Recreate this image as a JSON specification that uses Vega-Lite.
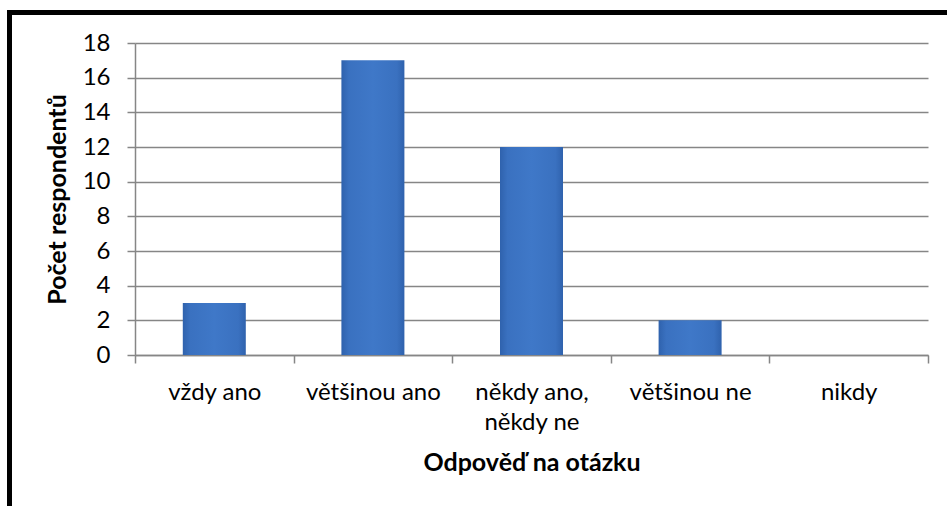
{
  "$schema": "https://vega.github.io/schema/vega-lite/v6.json",
  "autosize": "none",
  "width": 793,
  "height": 312,
  "padding": {"left": 135, "top": 43, "right": 19, "bottom": 151},
  "background": "white",
  "config": {
    "font": "Lato",
    "view": {"stroke": null}
  },
  "layer": [
    {
      "data": {"values": [{}]},
      "mark": {"type": "rect", "fill": null, "stroke": "black", "strokeWidth": 5},
      "encoding": {
        "x": {"value": -125.5},
        "x2": {"value": 830},
        "y": {"value": -30.5},
        "y2": {"value": 480}
      }
    },
    {
      "data": {
        "values": [
          {"odpoved": "vždy ano", "pocet": 3},
          {"odpoved": "většinou ano", "pocet": 17},
          {"odpoved": "někdy ano, někdy ne", "pocet": 12},
          {"odpoved": "většinou ne", "pocet": 2},
          {"odpoved": "nikdy", "pocet": 0}
        ]
      },
      "mark": {
        "type": "bar",
        "size": 63,
        "color": {
          "x1": 0, "y1": 0, "x2": 1, "y2": 0,
          "gradient": "linear",
          "stops": [
            {"offset": 0, "color": "#2f62ad"},
            {"offset": 0.12, "color": "#3a71c0"},
            {"offset": 0.5, "color": "#3f78c8"},
            {"offset": 0.88, "color": "#3a71c0"},
            {"offset": 1, "color": "#2f62ad"}
          ]
        }
      },
      "encoding": {
        "x": {
          "field": "odpoved",
          "type": "nominal",
          "sort": null,
          "scale": {"paddingInner": 0, "paddingOuter": 0},
          "axis": {
            "title": "Odpověď na otázku",
            "titleFont": "Lato",
            "titleFontSize": 25,
            "titleFontWeight": "bold",
            "titleColor": "black",
            "titlePadding": 16,
            "labelAngle": 0,
            "labelFontSize": 24,
            "labelColor": "black",
            "labelPadding": 17,
            "labelLineHeight": 30,
            "labelExpr": "datum.value == 'někdy ano, někdy ne' ? ['někdy ano,', 'někdy ne'] : datum.value",
            "tickBand": "extent",
            "tickSize": 8,
            "tickColor": "#868686",
            "tickWidth": 1.5,
            "domainColor": "#868686",
            "domainWidth": 1.5,
            "grid": false
          }
        },
        "y": {
          "field": "pocet",
          "type": "quantitative",
          "scale": {"domain": [0, 18], "nice": false},
          "axis": {
            "title": "Počet respondentů",
            "titleFont": "Lato",
            "titleFontSize": 25,
            "titleFontWeight": "bold",
            "titleColor": "black",
            "titlePadding": 12,
            "values": [0, 2, 4, 6, 8, 10, 12, 14, 16, 18],
            "labelFontSize": 24,
            "labelColor": "black",
            "labelPadding": 17,
            "tickSize": 8,
            "tickColor": "#868686",
            "tickWidth": 1.5,
            "domainColor": "#868686",
            "domainWidth": 1.5,
            "grid": true,
            "gridColor": "#868686",
            "gridWidth": 1.5
          }
        }
      }
    }
  ]
}
